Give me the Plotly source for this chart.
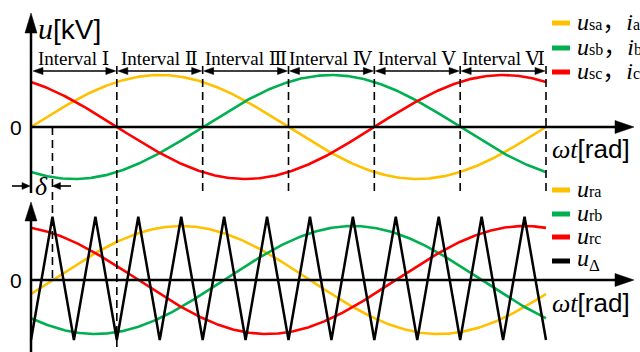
import numpy as np
import plotly.graph_objects as go

W, H = 640, 352

# ---------------- waveform parameters ----------------
phase_names = ["a", "b", "c"]
phase_colors = ["#FFC000", "#00B050", "#FF0000"]
phase_offsets = [0.0, -2 * np.pi / 3, 2 * np.pi / 3]   # rad
source_amplitude = 1.0
reference_amplitude = 1.0
delta = np.pi / 12                                       # lag of the reference waves
carrier_periods = 12                                     # triangle periods per fundamental period
carrier_peak = 1.17
carrier_trough = -1.11
interval_labels = ["Interval Ⅰ", "Interval Ⅱ", "Interval Ⅲ",
                   "Interval Ⅳ", "Interval Ⅴ", "Interval Ⅵ"]
interval_edges = [k * np.pi / 3 for k in range(7)]

# ---------------- layout geometry (pixels) ----------------
X0_PX = 31.0                   # left vertical axis
PX_PER_RAD = 515.0 / (2 * np.pi)
TOP_ZERO_PX, TOP_UNIT_PX = 127.0, 52.0
BOT_ZERO_PX, BOT_UNIT_PX = 280.0, 54.0


def PX(x):
    return x / W


def PY(y):
    return 1 - y / H


def rad_to_px(t):
    return X0_PX + t * PX_PER_RAD


theta = np.linspace(0, 2 * np.pi, 600)

fig = go.Figure()

# source voltages / currents (top panel)
for name, col, ph in zip(phase_names, phase_colors, phase_offsets):
    fig.add_trace(go.Scatter(x=theta, y=source_amplitude * np.sin(theta + ph),
                             mode="lines", line=dict(color=col, width=2.6),
                             yaxis="y", hoverinfo="skip"))

# reference waves (bottom panel)
for name, col, ph in zip(phase_names, phase_colors, phase_offsets):
    fig.add_trace(go.Scatter(x=theta, y=reference_amplitude * np.sin(theta + ph - delta),
                             mode="lines", line=dict(color=col, width=2.6),
                             yaxis="y2", hoverinfo="skip"))

# triangular carrier
n_vertices = 2 * carrier_periods + 1
carrier_theta = np.arange(n_vertices) * np.pi / carrier_periods
carrier_vals = [carrier_trough if k % 2 == 0 else carrier_peak for k in range(n_vertices)]
fig.add_trace(go.Scatter(x=carrier_theta, y=carrier_vals, mode="lines",
                         line=dict(color="black", width=2.5), yaxis="y2",
                         hoverinfo="skip"))

shapes = []
annotations = []


def hline(x0, x1, y, width=2.5, dash=None, color="black"):
    shapes.append(dict(type="line", xref="paper", yref="paper",
                       x0=PX(x0), x1=PX(x1), y0=PY(y), y1=PY(y),
                       line=dict(color=color, width=width, dash=dash)))


def vline(x, y0, y1, width=2.5, dash=None):
    shapes.append(dict(type="line", xref="paper", yref="paper",
                       x0=PX(x), x1=PX(x), y0=PY(y0), y1=PY(y1),
                       line=dict(color="black", width=width, dash=dash)))


def arrowhead(tx, ty, direction, length, half):
    dx, dy = {"up": (0, 1), "down": (0, -1), "left": (1, 0), "right": (-1, 0)}[direction]
    bx, by = tx + dx * length, ty + dy * length
    px_, py_ = -dy, dx
    pts = [(tx, ty), (bx + px_ * half, by + py_ * half), (bx - px_ * half, by - py_ * half)]
    path = "M" + " L".join(f"{PX(x):.5f},{PY(y):.5f}" for x, y in pts) + " Z"
    shapes.append(dict(type="path", xref="paper", yref="paper", path=path,
                       fillcolor="black", line=dict(color="black", width=0.5)))


def label(x, y, text, size, family, xanchor="center"):
    annotations.append(dict(x=PX(x), y=PY(y), xref="paper", yref="paper",
                            xanchor=xanchor, yanchor="middle", showarrow=False,
                            text=text, font=dict(family=family, size=size, color="black")))


# axes of the top panel
vline(X0_PX, 30, 193)
arrowhead(X0_PX, 13, "up", 20, 6)
hline(X0_PX - 1, 618, TOP_ZERO_PX)
arrowhead(634, TOP_ZERO_PX, "right", 19, 6.5)

# axes of the bottom panel
vline(X0_PX, 218, H + 2)
arrowhead(X0_PX, 202, "up", 19, 6)
hline(X0_PX - 1, 618, BOT_ZERO_PX)
arrowhead(634, BOT_ZERO_PX, "right", 19, 6.5)

# interval boundaries
for k, e in enumerate(interval_edges[1:], start=1):
    bottom = H + 2 if k == 1 else 196
    shapes.append(dict(type="line", xref="x", yref="paper", x0=e, x1=e,
                       y0=PY(66), y1=PY(bottom),
                       line=dict(color="black", width=1.6, dash="8px,5px")))

# delta marker line
shapes.append(dict(type="line", xref="x", yref="paper", x0=delta, x1=delta,
                   y0=PY(TOP_ZERO_PX), y1=PY(BOT_ZERO_PX),
                   line=dict(color="black", width=1.6, dash="8px,5px")))

# interval span arrows and labels
ARROW_Y = 71
for k in range(6):
    xa, xb = rad_to_px(interval_edges[k]), rad_to_px(interval_edges[k + 1])
    if k == 0:
        xa = X0_PX + 1
    hline(xa + 3, xb - 3, ARROW_Y, width=1.6)
    arrowhead(xa + 1, ARROW_Y, "left", 10, 3.6)
    arrowhead(xb - 1, ARROW_Y, "right", 10, 3.6)
    annotations.append(dict(x=(interval_edges[k] + interval_edges[k + 1]) / 2,
                            xref="x", y=PY(58), yref="paper",
                            text=interval_labels[k], showarrow=False,
                            xanchor="center", yanchor="middle",
                            font=dict(family="Liberation Serif, DejaVu Serif", size=19,
                                      color="black")))

# delta dimension arrows
hline(12, 25, 186, width=1.6)
arrowhead(30, 186, "right", 8, 3.5)
d_px = rad_to_px(delta)
hline(d_px + 5, 71, 186, width=1.6)
arrowhead(d_px, 186, "left", 8, 3.5)
label(41, 186, "<i>δ</i>", 26, "Liberation Serif")

# zero labels
for y in (TOP_ZERO_PX, BOT_ZERO_PX):
    label(16, y, "0", 21, "Liberation Sans")

SERIF = "font-family:Liberation Serif"
label(36, 28, f"<span style='{SERIF};font-size:30px'><i>u</i></span>[kV]", 28,
      "Liberation Sans", "left")
for y in (149, 303):
    label(550, y, f"<span style='{SERIF}'><i>ωt</i></span>[rad]", 26, "Liberation Sans", "left")

# legends
SUB = "font-size:16px"
LEG_FONT = "Liberation Serif, Noto Sans CJK SC"
top_legend = [f"<i>u</i><span style='{SUB}'>s{p}</span>，<i>i</i><span style='{SUB}'>{p}</span>"
              for p in phase_names]
top_legend_y = [23, 48, 72]
bottom_legend = [f"<i>u</i><span style='{SUB}'>r{p}</span>" for p in phase_names] + \
                [f"<i>u</i><sub>Δ</sub>"]
bottom_legend_y = [190, 214, 237, 261]
bottom_colors = phase_colors + ["black"]

for txt, y, col in zip(top_legend, top_legend_y, phase_colors):
    hline(552, 570, y, width=5, color=col)
    label(575, y - 1, txt, 24, LEG_FONT, "left")
for txt, y, col in zip(bottom_legend, bottom_legend_y, bottom_colors):
    hline(552, 570, y, width=5, color=col)
    label(575, y - 1, txt, 24, LEG_FONT, "left")

fig.update_layout(
    width=W, height=H,
    margin=dict(l=0, r=0, t=0, b=0),
    paper_bgcolor="white", plot_bgcolor="white",
    showlegend=False,
    xaxis=dict(range=[(0 - X0_PX) / PX_PER_RAD, (W - X0_PX) / PX_PER_RAD],
               visible=False, fixedrange=True),
    yaxis=dict(range=[-(H - TOP_ZERO_PX) / TOP_UNIT_PX, TOP_ZERO_PX / TOP_UNIT_PX],
               visible=False, fixedrange=True, domain=[0, 1]),
    yaxis2=dict(range=[-(H - BOT_ZERO_PX) / BOT_UNIT_PX, BOT_ZERO_PX / BOT_UNIT_PX],
                visible=False, fixedrange=True, overlaying="y", domain=[0, 1]),
    shapes=shapes,
    annotations=annotations,
)

fig.write_html("out.html")
